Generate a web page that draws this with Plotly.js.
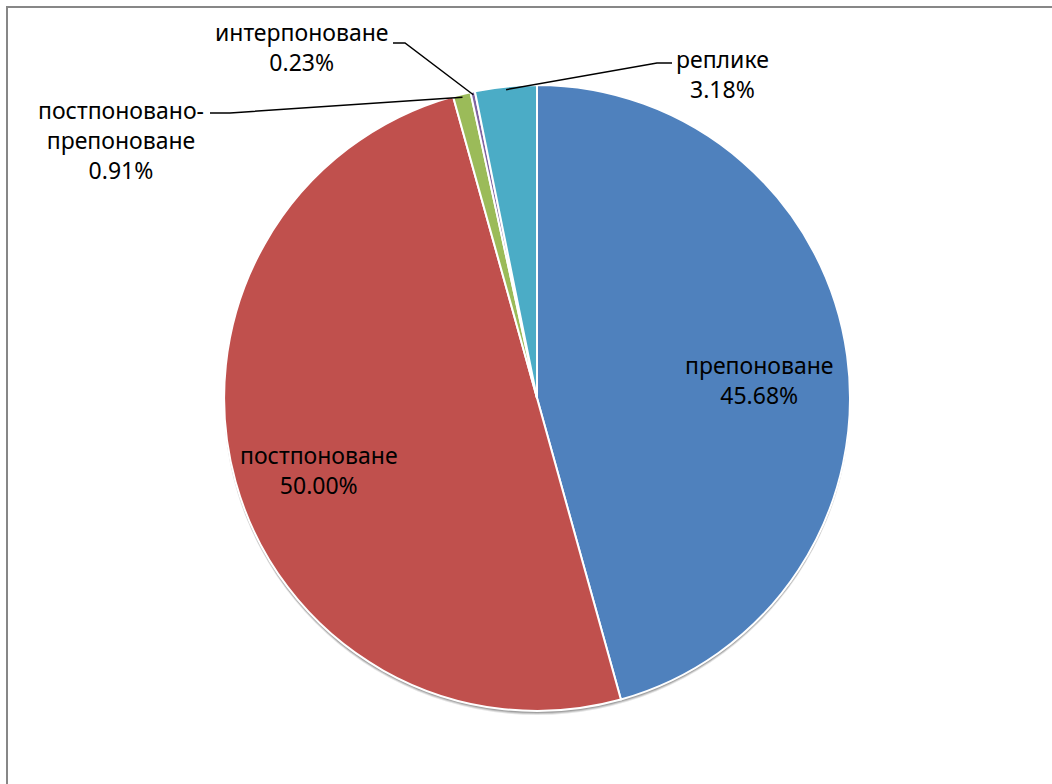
<!DOCTYPE html>
<html>
<head>
<meta charset="utf-8">
<script src="https://cdn.plot.ly/plotly-3.0.1.min.js"></script>
<style>html,body{margin:0;padding:0;background:#fff;}#chart{width:1052px;height:784px;}</style>
</head>
<body>
<div id="chart"></div>
<script>
// Data
const categories = ["препоноване", "постпоноване", "постпоновано-препоноване", "интерпоноване", "реплике"];
const values = [45.68, 50.00, 0.91, 0.23, 3.18];
const labelTexts = ["препоноване<br>45.68%", "постпоноване<br>50.00%", "постпоновано-<br>препоноване<br>0.91%", "интерпоноване<br>0.23%", "реплике<br>3.18%"];
const colors = ["#4F81BD", "#C0504D", "#9BBB59", "#8064A2", "#4BACC6"];

// Layout geometry (pixels)
const W = 1052, H = 784;
const CX = 537, CY = 398, R = 313;
const px = x => x / W;
const py = y => 1 - y / H;

// label centres (pixels) and leader elbows
const labelPos = [[759, 380], [319, 470], [121, 140], [301, 47], [722, 74]];
const leaderElbow = [null, null, [[230, 113], [210, 113]], [[405, 43], [393, 43]], [[657, 63], [672, 63]]];

const total = values.reduce((a, b) => a + b, 0);
let cum = 0;
const midAngles = values.map(v => { const m = (cum + v / 2) / total * 2 * Math.PI; cum += v; return m; });

const shapes = [{
  type: 'path', xref: 'paper', yref: 'paper',
  path: `M ${px(7)},${py(800)} L ${px(7)},${py(7)} L ${px(1070)},${py(7)}`,
  line: {color: '#878787', width: 2}
}];
values.forEach((v, i) => {
  const e = leaderElbow[i];
  if (!e) return;
  const a = midAngles[i];
  const sx = CX + R * 0.99 * Math.sin(a), sy = CY - R * 0.99 * Math.cos(a);
  shapes.push({
    type: 'path', xref: 'paper', yref: 'paper',
    path: `M ${px(sx)},${py(sy)} L ${px(e[0][0])},${py(e[0][1])} L ${px(e[1][0])},${py(e[1][1])}`,
    line: {color: '#000000', width: 1.5}
  });
});

const annotations = labelTexts.map((t, i) => ({
  text: t, xref: 'paper', yref: 'paper',
  x: px(labelPos[i][0]), y: py(labelPos[i][1]),
  xanchor: 'center', yanchor: 'middle', showarrow: false, align: 'center',
  font: {family: 'Noto Sans, Open Sans, sans-serif', size: 23, color: '#000000'}
}));

const pieDomain = {x: [(CX - R) / W, (CX + R) / W], y: [1 - (CY + R) / H, 1 - (CY - R) / H]};

// soft shadow under the pie
const shadows = [[4, 0.10], [3, 0.14], [2, 0.18]].map(([d, o]) => ({
  type: 'pie', labels: ['shadow'], values: [1], textinfo: 'none', hoverinfo: 'skip',
  sort: false, marker: {colors: [`rgba(0,0,0,${o})`], line: {width: 0}},
  domain: {x: [(CX - R) / W, (CX + R) / W], y: [1 - (CY + R + d) / H, 1 - (CY - R + d) / H]},
  showlegend: false
}));

const trace = {
  type: 'pie',
  labels: categories,
  values: values,
  sort: false,
  direction: 'clockwise',
  rotation: 0,
  textinfo: 'none',
  hoverinfo: 'label+percent',
  marker: {colors: colors, line: {color: '#FFFFFF', width: 2}},
  domain: pieDomain,
  showlegend: false
};

const layout = {
  width: W, height: H,
  margin: {l: 0, r: 0, t: 0, b: 0},
  paper_bgcolor: '#FFFFFF',
  showlegend: false,
  shapes: shapes,
  annotations: annotations
};

Plotly.newPlot('chart', [...shadows, trace], layout, {displayModeBar: false, staticPlot: true});
</script>
</body>
</html>
